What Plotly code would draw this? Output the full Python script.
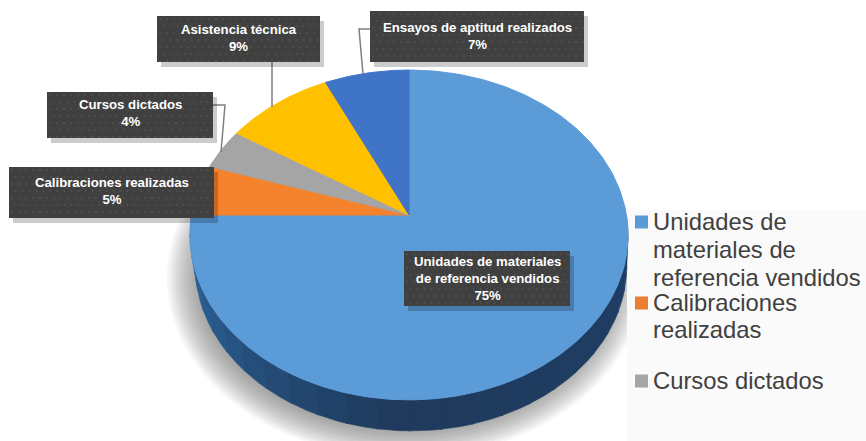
import numpy as np
import plotly.graph_objects as go

categories = ["Unidades de materiales de referencia vendidos", "Calibraciones realizadas",
              "Cursos dictados", "Asistencia técnica", "Ensayos de aptitud realizados"]
values = [75, 5, 4, 9, 7]
slice_colors = ["#5b9bd7", "#f5822c", "#a5a5a5", "#ffc000", "#4074c6"]
legend_lines = [["Unidades de", "materiales de", "referencia vendidos"], ["Calibraciones", "realizadas"], ["Cursos dictados"]]
legend_colors = ["#5b9bd5", "#ed7d31", "#a5a5a5"]
callout_lines = ["Unidades de materiales<br>de referencia vendidos", "Calibraciones realizadas",
                 "Cursos dictados", "Asistencia técnica", "Ensayos de aptitud realizados"]

# projection of the 3-D pie
CX, CY, A, B, K, DEPTH = 409, 215, 217.4, 162.5, 0.121, 31


def rim(theta, dy=0, sx=1.0, dx=0):
    u, v = np.sin(theta), np.cos(theta)
    d = 1 + K * v
    return CX + sx * A * u / d + dx, CY - B * v / d + dy


fig = go.Figure()
shapes = []

# soft ground shadow
for i in range(16):
    t = i / 15
    rx, ry = 238 - 34 * t, 180 - 30 * t
    shapes.append(dict(type="circle", layer="below", x0=405 - rx, x1=405 + rx, y0=278 - ry, y1=278 + ry,
                       fillcolor="rgba(90,90,90,0.05)", line_width=0))
# legend panel
shapes.append(dict(type="rect", layer="below", x0=627, x1=866, y0=210, y1=441, fillcolor="#fafafa", line_width=0))

# side wall
side_stops = np.linspace(np.pi / 2, 3 * np.pi / 2, 25)
c_right = np.array([0x1f, 0x3f, 0x66])
c_mid = np.array([0x1f, 0x3a, 0x5c])
c_left = np.array([0x2f, 0x6c, 0xa8])
for i in range(len(side_stops) - 1):
    a0, a1 = side_stops[i], side_stops[i + 1]
    t = (a0 - np.pi) / (np.pi / 2)
    col = c_mid + (c_left - c_mid) * max(t, 0) if t > 0 else c_mid + (c_right - c_mid) * (-t)
    th = np.linspace(a0, a1 + 0.01, 8)
    x1, y1 = rim(th)
    x2, y2 = rim(th[::-1], DEPTH, 0.985, 2)
    fig.add_trace(go.Scatter(x=np.r_[x1, x2], y=np.r_[y1, y2], mode="lines", fill="toself",
                             fillcolor="rgb(%d,%d,%d)" % tuple(col), line=dict(width=0.6, color="rgb(%d,%d,%d)" % tuple(col)),
                             hoverinfo="skip", showlegend=False))

# top slices
start = 0.0
total = sum(values)
for name, val, col in zip(categories, values, slice_colors):
    end = start + val / total * 2 * np.pi
    th = np.linspace(start, end, max(int(val * 4), 12))
    x, y = rim(th)
    fig.add_trace(go.Scatter(x=np.r_[CX, x, CX], y=np.r_[CY, y, CY], mode="lines", fill="toself", fillcolor=col,
                             line=dict(width=1, color=col), name=name, showlegend=False, hoverinfo="name"))
    start = end

# leader lines
leaders = [([272, 272], [62, 107]), ([370, 359, 363], [29, 29, 74]), ([213, 225, 221], [105, 105, 152])]
for lx, ly in leaders:
    fig.add_trace(go.Scatter(x=lx, y=ly, mode="lines", line=dict(color="#7f7f7f", width=1.5),
                             hoverinfo="skip", showlegend=False))

# callout boxes
boxes = [(404, 570, 251, 306), (9, 214, 167, 218), (47, 213, 92, 138), (157, 320, 16, 62), (370, 584, 11, 62)]
text_y = [278, 191, 113, 38, 36]
annotations = []
for box, label, val, ty in zip(boxes, callout_lines, values, text_y):
    x0, x1, y0, y1 = box
    fig.add_trace(go.Scatter(x=[x0 + 4, x1 + 4, x1 + 4, x0 + 4, x0 + 4], y=[y0 + 5, y0 + 5, y1 + 5, y1 + 5, y0 + 5],
                             mode="lines", fill="toself", fillcolor="rgba(0,0,0,0.2)", line_width=0,
                             hoverinfo="skip", showlegend=False))
    fig.add_trace(go.Scatter(x=[x0, x1, x1, x0, x0], y=[y0, y0, y1, y1, y0], mode="lines", fill="toself",
                             fillcolor="#404040", line_width=0, hoverinfo="skip", showlegend=False))
    dx, dy = [], []
    for r, yy in enumerate(np.arange(y0 + 3, y1, 7)):
        for xx in np.arange(x0 + 3 + (r % 2) * 3.5, x1, 7):
            dx.append(xx)
            dy.append(yy)
    fig.add_trace(go.Scatter(x=dx, y=dy, mode="markers", marker=dict(size=2, color="#525252"),
                             hoverinfo="skip", showlegend=False))
    annotations.append(dict(x=(x0 + x1) / 2, y=ty, text=f"<b>{label}<br>{val}%</b>", showarrow=False,
                            font=dict(family="Liberation Sans", size=13.2, color="#ffffff"), align="center"))

# legend
line_y = [[221, 249, 277], [302, 329], [380]]
swatch_y = [222, 303, 381]
for lines, col, ys, sy in zip(legend_lines, legend_colors, line_y, swatch_y):
    fig.add_trace(go.Scatter(x=[641.5], y=[sy], mode="markers", marker=dict(symbol="square", size=13, color=col),
                             hoverinfo="skip", showlegend=False))
    for line, ly in zip(lines, ys):
        annotations.append(dict(x=651, y=ly, xanchor="left", text=line, showarrow=False, align="left",
                                font=dict(family="Liberation Sans", size=23.8, color="#404040")))

fig.update_layout(width=866, height=441, margin=dict(l=0, r=0, t=0, b=0), paper_bgcolor="#ffffff",
                  plot_bgcolor="#ffffff", shapes=shapes, annotations=annotations,
                  xaxis=dict(range=[0, 866], visible=False, fixedrange=True),
                  yaxis=dict(range=[441, 0], visible=False, fixedrange=True), showlegend=False)
fig.write_html("out.html", config={"displayModeBar": False}, post_script="document.body.style.margin='0';")
